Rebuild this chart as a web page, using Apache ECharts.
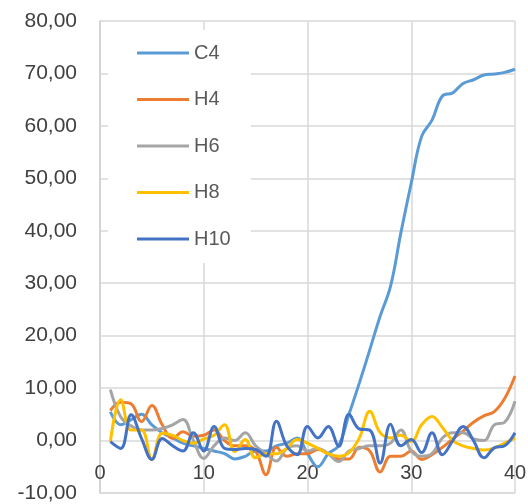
<!DOCTYPE html>
<html>
<head>
<meta charset="utf-8">
<script src="https://cdn.jsdelivr.net/npm/echarts@6/dist/echarts.min.js"></script>
<style>html,body{margin:0;padding:0;background:#fff;}#c{width:528px;height:504px;}</style>
</head>
<body>
<div id="c"></div>
<script>
var xs = [1,2,3,4,5,6,7,8,9,10,11,12,13,14,15,16,17,18,19,20,21,22,23,24,25,26,27,28,29,30,31,32,33,34,35,36,37,38,39,40];
var C4  = [5.5,3,4,5,3,1.5,0.5,-0.5,-1,-1.5,-2,-2.5,-3.5,-3,-2,-2,-1,-0.5,0.5,-2.5,-5,-2.5,-1,5,11,17.3,23.7,29.4,39.6,49.1,58,61.1,65.7,66.3,68.1,68.8,69.7,69.9,70.2,70.8];
var H4  = [5.7,7.3,7,3.6,6.7,3,0.4,1.7,0.8,1,2,0,-1,-1,-2,-6.5,-1.3,-3,-2.5,-2.5,-1.7,-2.5,-3.5,-3.5,-1.3,-2,-6,-3,-3,-2,-3.6,-2.7,-1.3,0.3,1.8,3.5,4.7,5.5,8,12.3];
var H6  = [9.7,4.5,2.8,2,2,2.3,3,4,0,-3.4,-1,0.5,0,1.5,-1,-2.5,-3.9,-1.5,-1,-2,-1.5,-2.5,-4,-2,-1.5,-1,-1,-0.5,2,-2,-3,-2.5,0.5,1.5,1.5,0.3,0,3,3.5,7.5];
var H8  = [-0.2,7.8,2,2,-3.6,1.4,1,0,-0.5,0.3,1,3,-2.1,0.2,-3.3,-2.5,-2.5,-1.5,0.2,-0.5,-1.5,-2.5,-3,-2.3,0.5,5.6,1.5,0.5,1,-0.2,3,4.6,2.5,0,-1,-1.5,-1.8,-1.4,-0.5,0.5];
var H10 = [-0.2,-1.5,4.9,0.4,-3.6,0.4,-1,-2,1.5,-2,2.7,-1.5,-1.7,-1.5,-1.7,-3,3.7,-1,-2.7,2.7,0.5,2.7,-1.1,5,2.2,2,-4.3,3.1,-1,0.2,-2.3,1.5,-2.7,0,2.7,0,-3.3,-1.4,-1,1.5];
var names = ['C4','H4','H6','H8','H10'];
var colors = ['#5B9BD5','#ED7D31','#A5A5A5','#FFC000','#4472C4'];
var seriesData = [C4,H4,H6,H8,H10];

function pairs(arr){ return xs.map(function(x,i){ return [x, arr[i]]; }); }

var chart = echarts.init(document.getElementById('c'), null, {renderer:'canvas'});
var font = 'Liberation Sans, Arial, sans-serif';
chart.setOption({
  animation: false,
  backgroundColor: '#fff',
  grid: {left: 100, right: 13, top: 21, bottom: 11, containLabel: false, outerBoundsMode: 'none'},
  legend: {
    orient: 'vertical', left: 108, top: 30,
    backgroundColor: '#fff',
    padding: [13, 20, 14, 29],
    icon: 'rect',
    itemWidth: 52, itemHeight: 3, itemGap: 26.5,
    data: names,
    textStyle: {fontFamily: font, fontSize: 20, color: '#595959', lineHeight: 20}
  },
  xAxis: {
    type: 'value', min: 0, max: 40, interval: 10,
    axisLine: {show: true, onZero: false, lineStyle: {color: '#d9d9d9', width: 1.5}},
    axisTick: {show: false},
    axisLabel: {inside: true, margin: 10, fontFamily: font, fontSize: 20, color: '#404040'},
    splitLine: {show: true, lineStyle: {color: '#d9d9d9', width: 1.5}}
  },
  yAxis: {
    type: 'value', min: -10, max: 80, interval: 10,
    axisLine: {show: true, onZero: false, lineStyle: {color: '#cfcfcf', width: 1.5}},
    axisTick: {show: false},
    axisLabel: {margin: 23, fontFamily: font, fontSize: 21, color: '#404040',
      formatter: function(v){ return v.toFixed(2).replace('.', ','); }},
    splitLine: {show: true, lineStyle: {color: '#d9d9d9', width: 1.5}}
  },
  series: names.map(function(n, i){
    return {
      name: n, type: 'line', data: pairs(seriesData[i]),
      smooth: 0.4, symbol: 'none', showSymbol: false,
      lineStyle: {color: colors[i], width: 3},
      itemStyle: {color: colors[i]}
    };
  })
});
</script>
</body>
</html>
